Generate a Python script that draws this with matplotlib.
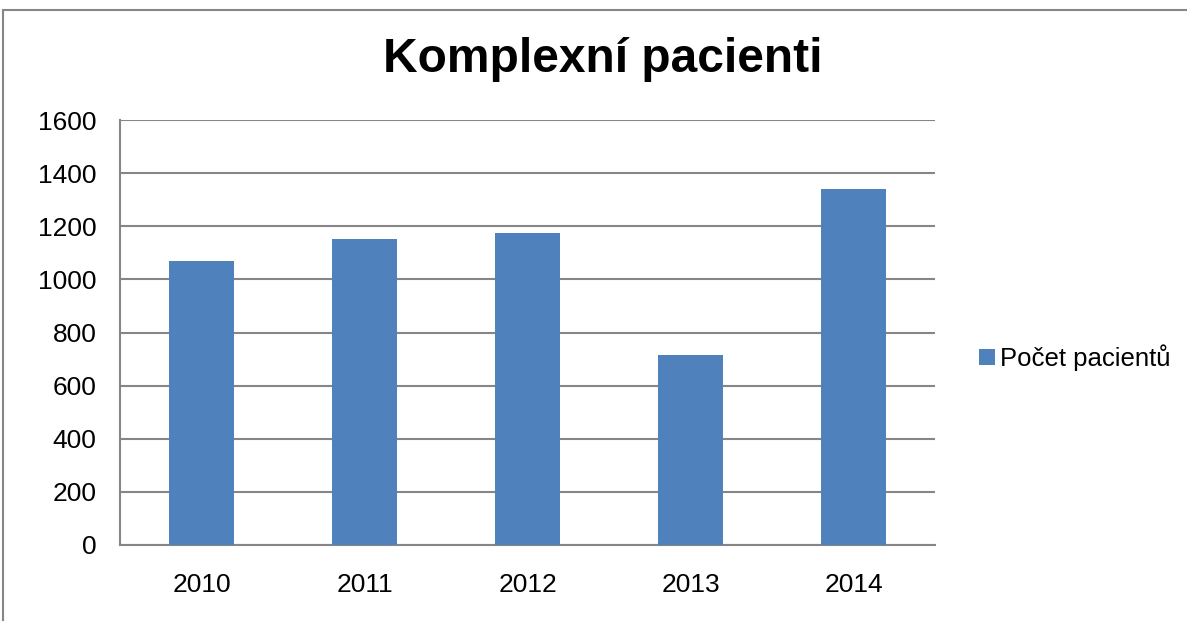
import matplotlib.pyplot as plt
from matplotlib.patches import Rectangle

years = ['2010', '2011', '2012', '2013', '2014']
patients = [1070, 1152, 1175, 715, 1342]
y_ticks = [0, 200, 400, 600, 800, 1000, 1200, 1400, 1600]

plt.rcParams['font.family'] = ['Liberation Sans', 'DejaVu Sans']

fig = plt.figure(figsize=(11.87, 6.21), dpi=100)
W, H = 1187, 621
# outer chart frame (cut off at right and bottom)
fig.patches.append(Rectangle((3 / W, -0.1), 1.2, 1 - 10 / H + 0.1, transform=fig.transFigure,
                             fill=False, edgecolor='#868686', linewidth=1.5))

ax = fig.add_axes([120 / W, 1 - 545 / H, 815 / W, 425 / H])
x = range(len(years))
ax.bar(x, patients, width=0.4, color='#4f81bd', label='Počet pacientů', zorder=3)
ax.set_xlim(-0.5, 4.5)
ax.set_ylim(0, 1600)
ax.set_yticks(y_ticks)
ax.set_xticks(list(x))
ax.set_xticklabels(years)
ax.tick_params(axis='both', labelsize=19, length=0)
ax.tick_params(axis='y', pad=17)
ax.tick_params(axis='x', pad=20)
ax.grid(True, axis='y', color='#868686', linewidth=1.5, zorder=0)
for s in ['top', 'right']:
    ax.spines[s].set_visible(False)
ax.spines['left'].set_color('#868686')
ax.spines['bottom'].set_color('#868686')
ax.spines['left'].set_linewidth(1.5)
ax.spines['bottom'].set_linewidth(1.5)

fig.text(603 / W, 1 - 60 / H, 'Komplexní pacienti', ha='center', va='center',
         fontsize=34.5, fontweight='bold')

ax.legend(loc='center left', bbox_to_anchor=(956 / W, 1 - 358 / H), bbox_transform=fig.transFigure,
          frameon=False, fontsize=18.5, handlelength=0.6, handleheight=0.6, handletextpad=0.2)

fig.savefig('out.png', dpi=100)
